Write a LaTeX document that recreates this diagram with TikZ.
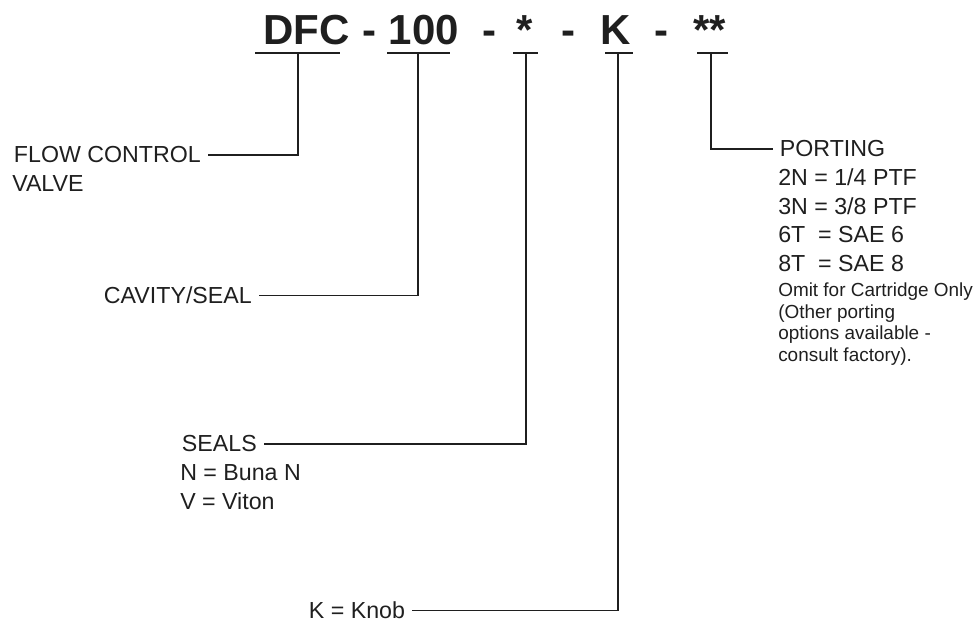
\documentclass[tikz,border=0pt]{standalone}
\usepackage{fontspec}
\setmainfont{Liberation Sans}
\begin{document}
\begin{tikzpicture}[x=0.75pt,y=-0.75pt,
  ink/.style={draw=black!88, line width=0.9pt},
  title/.style={inner sep=0pt, anchor=base, font=\fontsize{31.5}{36}\selectfont\bfseries, text=black!88},
  lbl/.style={inner xsep=5pt, inner ysep=0pt, anchor=base west, font=\fontsize{17.4}{21.75}\selectfont, text=black!88},
  sub/.style={inner sep=0pt, anchor=base west, font=\fontsize{17.4}{21.75}\selectfont, text=black!88},
  small/.style={inner sep=0pt, anchor=base west, font=\fontsize{14.2}{16}\selectfont, text=black!88}]
\useasboundingbox (0,0) rectangle (976,623);
% title
\node[title] (tDFC) at (306.5,45) {DFC};
\node[title] (d1) at (369,45) {-};
\node[title] (t100) at (424,45) {100};
\node[title] (d2) at (489.5,45) {-};
\node[title] (tS) at (525,45) {*};
\node[title] (d3) at (568.5,45) {-};
\node[title] (tK) at (616,45) {K};
\node[title] (d4) at (661.5,45) {-};
\node[title] (tSS) at (710,45) {**};
% underlines
\coordinate (u1) at (298,53);
\coordinate (u2) at (418,53);
\coordinate (u3) at (526,53);
\coordinate (u4) at (618,53);
\coordinate (u5) at (711,53);
\draw[ink] (255,53) -- (340,53);
\draw[ink] (387,53) -- (450,53);
\draw[ink] (513,53) -- (538,53);
\draw[ink] (605,53) -- (633,53);
\draw[ink] (697,53) -- (728,53);
% labels
\node[lbl] (flow) at (7,163) {FLOW CONTROL};
\node[sub] (valve) at (12,192) {VALVE};
\node[lbl] (cav) at (97,304) {CAVITY/SEAL};
\node[lbl] (seals) at (175,452) {SEALS};
\node[sub] (sealn) at (180,481) {N = Buna N};
\node[sub] (sealv) at (180,510) {V = Viton};
\node[lbl] (knob) at (302,619) {K = Knob};
\node[lbl] (port) at (773,157) {PORTING};
\node[sub] (p2n) at (778,186) {2N = 1/4 PTF};
\node[sub] (p3n) at (778,214.5) {3N = 3/8 PTF};
\node[sub] (p6t) at (778,243) {6T \ = SAE 6};
\node[sub] (p8t) at (778,271.5) {8T \ = SAE 8};
\node[small] (om1) at (778,297) {Omit for Cartridge Only};
\node[small] (om2) at (778,318.5) {(Other porting};
\node[small] (om3) at (778,340) {options available -};
\node[small] (om4) at (778,361.5) {consult factory).};
% connectors
\draw[ink] (u1) |- (flow.east);
\draw[ink] (u2) |- (cav.east);
\draw[ink] (u3) |- (seals.east);
\draw[ink] (u4) |- (knob.east);
\draw[ink] (u5) |- (port.west);
\end{tikzpicture}
\end{document}
